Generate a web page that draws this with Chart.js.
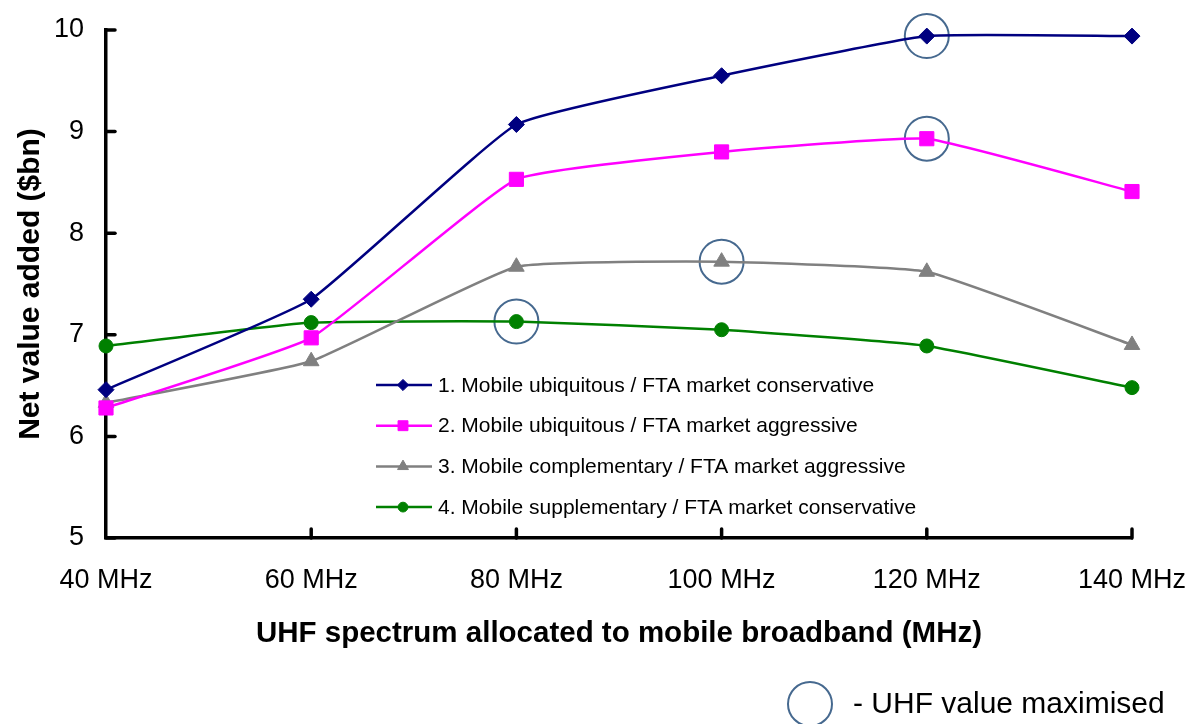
<!DOCTYPE html>
<html>
<head>
<meta charset="utf-8">
<script src="https://cdn.jsdelivr.net/npm/chart.js@4/dist/chart.umd.min.js"></script>
<style>
  html, body { margin: 0; padding: 0; background: #fff; }
  #wrap { width: 1186px; height: 724px; }
</style>
</head>
<body>
<div id="wrap"><canvas id="c" width="1186" height="724"></canvas></div>
<script>
// ---- data ----
const categories = ['40 MHz', '60 MHz', '80 MHz', '100 MHz', '120 MHz', '140 MHz'];
const seriesNames = [
  '1. Mobile ubiquitous / FTA market conservative',
  '2. Mobile ubiquitous / FTA market aggressive',
  '3. Mobile complementary / FTA market aggressive',
  '4. Mobile supplementary / FTA market conservative'
];
const ubiquitousConservative = [6.46, 7.35, 9.07, 9.55, 9.94, 9.94];
const ubiquitousAggressive = [6.28, 6.97, 8.53, 8.80, 8.93, 8.41];
const complementaryAggressive = [6.33, 6.74, 7.67, 7.72, 7.62, 6.90];
const supplementaryConservative = [6.89, 7.12, 7.13, 7.05, 6.89, 6.48];
const maximisedAt = ['120 MHz', '120 MHz', '100 MHz', '80 MHz'];
const maxLabel = '- UHF value maximised';
const yTicks = [5, 6, 7, 8, 9, 10];

const colors = ['#000080', '#FF00FF', '#808080', '#008000'];
const styles = ['rectRot', 'rect', 'triangle', 'circle'];
const radii = [8, 10, 9, 7];
const allSeries = [ubiquitousConservative, ubiquitousAggressive, complementaryAggressive, supplementaryConservative];

const FONT = "'Liberation Sans', Arial, sans-serif";

const datasets = allSeries.map((vals, i) => ({
  label: seriesNames[i],
  data: vals,
  borderColor: colors[i],
  backgroundColor: colors[i],
  pointBackgroundColor: colors[i],
  pointBorderColor: colors[i],
  pointStyle: styles[i],
  pointRadius: radii[i],
  pointHoverRadius: radii[i],
  pointBorderWidth: 1,
  borderWidth: 2.5,
  tension: 0.12,
  fill: false,
  clip: false
}));

const maxPoints = maximisedAt.map((cat, i) => ({ x: cat, y: allSeries[i][categories.indexOf(cat)] }));
datasets.push({
  label: maxLabel,
  data: maxPoints,
  showLine: false,
  pointStyle: 'circle',
  pointRadius: 22,
  pointHoverRadius: 22,
  pointBorderWidth: 2,
  pointBorderColor: '#46698f',
  pointBackgroundColor: 'rgba(0,0,0,0)',
  borderColor: '#46698f',
  backgroundColor: 'rgba(0,0,0,0)',
  clip: false,
  isMarker: true
});

function drawMarker(ctx, style, x, y, r, color) {
  ctx.save();
  ctx.fillStyle = color;
  ctx.strokeStyle = color;
  ctx.lineWidth = 1;
  ctx.beginPath();
  if (style === 'rectRot') {
    ctx.moveTo(x - r, y); ctx.lineTo(x, y - r); ctx.lineTo(x + r, y); ctx.lineTo(x, y + r);
  } else if (style === 'rect') {
    const s = Math.SQRT1_2 * r;
    ctx.rect(x - s, y - s, 2 * s, 2 * s);
  } else if (style === 'triangle') {
    ctx.moveTo(x, y - r);
    ctx.lineTo(x + Math.sin(Math.PI * 2 / 3) * r, y - Math.cos(Math.PI * 2 / 3) * r);
    ctx.lineTo(x + Math.sin(Math.PI * 4 / 3) * r, y - Math.cos(Math.PI * 4 / 3) * r);
  } else {
    ctx.arc(x, y, r, 0, Math.PI * 2);
  }
  ctx.closePath();
  ctx.fill();
  ctx.stroke();
  ctx.restore();
}

const overlay = {
  id: 'overlay',
  afterDraw(chart) {
    const ctx = chart.ctx;
    const area = chart.chartArea;
    const xs = chart.scales.x, ys = chart.scales.y;
    // inward tick marks
    ctx.save();
    ctx.strokeStyle = '#000';
    ctx.lineWidth = 3.5;
    ctx.lineCap = 'round';
    ys.ticks.forEach((t, i) => {
      const py = ys.getPixelForTick(i);
      ctx.beginPath(); ctx.moveTo(area.left, py); ctx.lineTo(area.left + 9, py); ctx.stroke();
    });
    xs.ticks.forEach((t, i) => {
      if (i === 0) return;
      const px = xs.getPixelForTick(i);
      ctx.beginPath(); ctx.moveTo(px, area.bottom); ctx.lineTo(px, area.bottom - 9); ctx.stroke();
    });
    ctx.restore();

    // in-plot legend
    const lx = area.left + 270;
    const ly0 = area.top + 355;
    const step = 40.7;
    ctx.save();
    ctx.font = '21px ' + FONT;
    ctx.textBaseline = 'middle';
    ctx.fillStyle = '#000';
    chart.data.datasets.forEach((ds, i) => {
      if (ds.isMarker) return;
      const y = ly0 + i * step;
      ctx.strokeStyle = ds.borderColor;
      ctx.lineWidth = 2.5;
      ctx.beginPath(); ctx.moveTo(lx, y); ctx.lineTo(lx + 56, y); ctx.stroke();
      drawMarker(ctx, ds.pointStyle, lx + 27, y, ds.pointRadius * 0.7, ds.pointBackgroundColor);
      ctx.fillStyle = '#000';
      ctx.fillText(ds.label, lx + 62, y + 1);
    });
    ctx.restore();

    // bottom key for circles
    const mk = chart.data.datasets.find(d => d.isMarker);
    const cx = area.left + 704, cy = area.bottom + 166;
    ctx.save();
    ctx.strokeStyle = mk.pointBorderColor;
    ctx.lineWidth = 2;
    ctx.beginPath(); ctx.arc(cx, cy, 22, 0, Math.PI * 2); ctx.stroke();
    ctx.fillStyle = '#000';
    ctx.font = '30px ' + FONT;
    ctx.textBaseline = 'middle';
    ctx.fillText(mk.label, cx + 43, cy + 1);
    ctx.restore();
  }
};

new Chart(document.getElementById('c'), {
  type: 'line',
  data: { labels: categories, datasets: datasets },
  plugins: [overlay],
  options: {
    responsive: false,
    animation: false,
    layout: { padding: { left: 0, right: 54, top: 30, bottom: 66 } },
    plugins: { legend: { display: false }, tooltip: { enabled: false } },
    scales: {
      x: {
        type: 'category',
        offset: false,
        grid: { display: false, drawTicks: false },
        border: { display: true, color: '#000', width: 3.5 },
        ticks: { color: '#000', font: { family: FONT, size: 27 }, padding: 26, maxRotation: 0, autoSkip: false },
        title: {
          display: true,
          text: 'UHF spectrum allocated to mobile broadband (MHz)',
          color: '#000',
          font: { family: FONT, size: 29.5, weight: 'bold' },
          padding: { top: 0, bottom: 6 }
        },
        afterFit(scale) { scale.height = 120; scale.paddingLeft = 0; scale.paddingRight = 0; }
      },
      y: {
        min: 5, max: 10,
        afterBuildTicks(scale) { scale.ticks = yTicks.map(v => ({ value: v })); },
        grid: { display: false, drawTicks: false },
        border: { display: true, color: '#000', width: 3.5 },
        ticks: { color: '#000', font: { family: FONT, size: 27 }, padding: 22 },
        title: {
          display: true,
          text: 'Net value added ($bn)',
          color: '#000',
          font: { family: FONT, size: 30, weight: 'bold' },
          padding: { top: 13, bottom: 0 }
        },
        afterFit(scale) { scale.width = 106; scale.paddingTop = 0; scale.paddingBottom = 0; }
      }
    }
  }
});
</script>
</body>
</html>
